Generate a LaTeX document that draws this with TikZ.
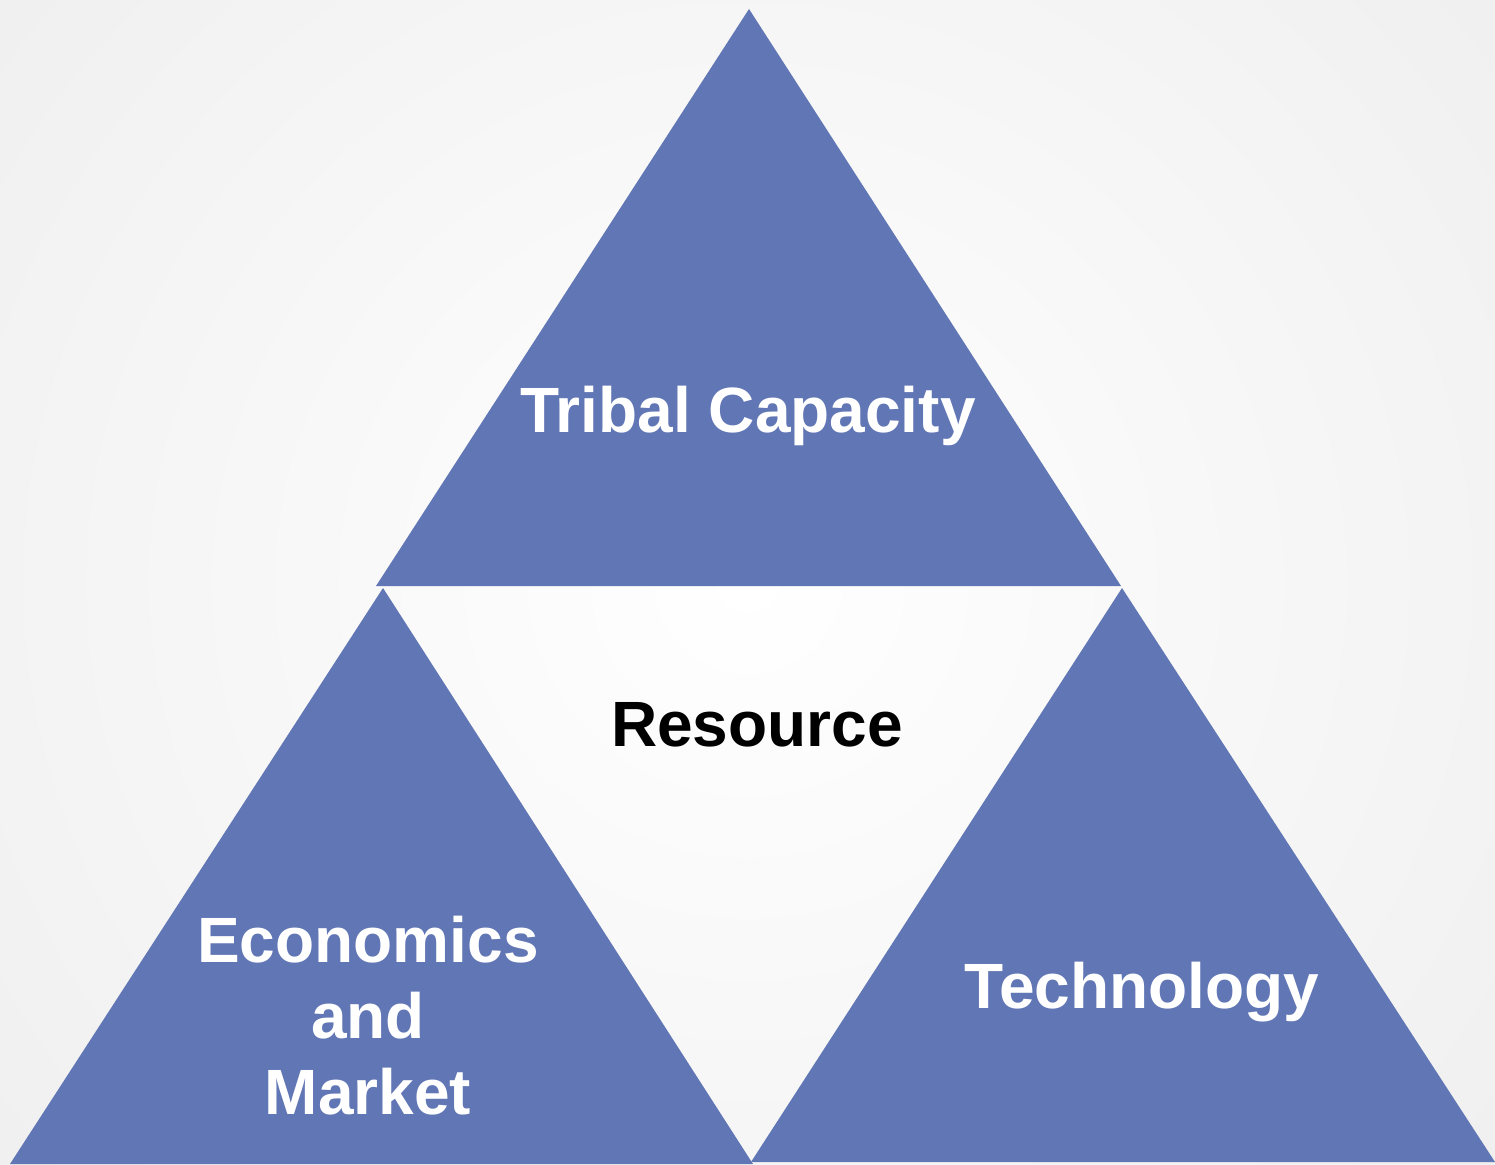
\documentclass[tikz,border=0pt]{standalone}
\usepackage{fontspec}
\setmainfont{Liberation Sans}
\definecolor{triblue}{RGB}{97,118,180}
\definecolor{bgedge}{RGB}{236,236,236}
\begin{document}
\begin{tikzpicture}[x=1pt,y=-1pt,
  tri/.style={fill=triblue,draw=none},
  lbl/.style={font=\fontsize{64}{76}\selectfont\bfseries,text=white,align=center,inner sep=0pt},
  lblk/.style={lbl,text=black}]
\useasboundingbox (0,0) rectangle (1495,1164);
\shade[inner color=white,outer color=bgedge] (-450,-580) rectangle (1945,1744);
% triangles
\coordinate (ta) at (749,9);
\coordinate (tl) at (376,586);
\coordinate (tr) at (1121,586);
\coordinate (la) at (383,588);
\coordinate (ll) at (10,1164);
\coordinate (lr) at (753,1164);
\coordinate (ra) at (1122,588);
\coordinate (rl) at (751,1162);
\coordinate (rr) at (1495,1162);
\fill[tri] (ta) -- (tl) -- (tr) -- cycle;
\fill[tri] (la) -- (ll) -- (lr) -- cycle;
\fill[tri] (ra) -- (rl) -- (rr) -- cycle;
% labels
\node[lbl] (tribal) at (748,416) {Tribal Capacity};
\node[lblk] (resource) at (757,725) {Resource};
\node[lbl] (econ) at (368,1016) {Economics\\and\\Market};
\node[lbl] (tech) at (1142,992) {Technology};
\end{tikzpicture}
\end{document}
